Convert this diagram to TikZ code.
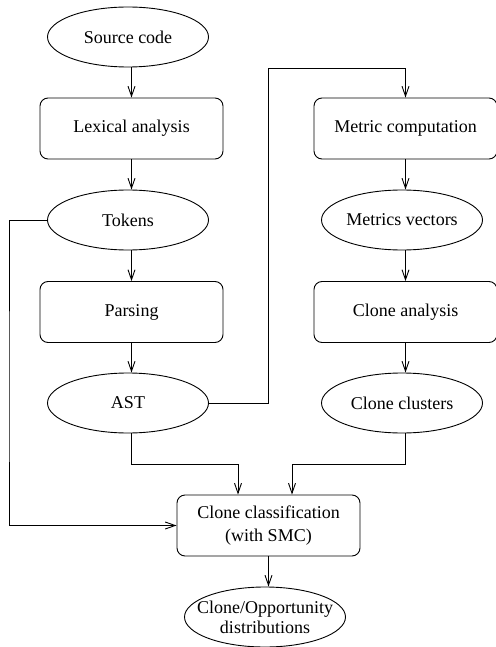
\documentclass[tikz,border=0pt]{standalone}
\usepackage{fontspec}
\setmainfont{Liberation Serif}
\usetikzlibrary{arrows.meta, shapes.geometric}

\begin{document}
\begin{tikzpicture}[x=1pt, y=-1pt, line width=0.9pt,
    every node/.style={font=\fontsize{18}{23}\selectfont},
    stage/.style={draw, rounded corners=8pt, minimum width=183pt, minimum height=61pt, align=center},
    datum/.style={draw, ellipse, inner sep=0pt, minimum width=161pt, minimum height=60pt, align=center},
    flow/.style={-{Straight Barb[length=10pt, width=7pt]}}]
  \useasboundingbox (0,0) rectangle (495,647);
  \node[datum] (src) at (128,37) {Source code};
  \node[stage] (lex) at (131.5,128.5) {Lexical analysis};
  \node[datum] (tok) at (128,220) {Tokens};
  \node[stage] (parse) at (131.5,312) {Parsing};
  \node[datum] (ast) at (128,403) {AST};
  \node[stage] (metric) at (405.5,128.5) {Metric computation};
  \node[datum] (vec) at (402,220) {Metrics vectors};
  \node[stage] (canal) at (405.5,312) {Clone analysis};
  \node[datum] (clus) at (402,403) {Clone clusters};
  \node[stage] (cls) at (268.5,525.5) {Clone classification\\(with SMC)};
  \node[datum, inner xsep=-20pt, font=\fontsize{18}{20}\selectfont] (dist) at (265,617) {Clone/Opportunity\\distributions};
  \coordinate (astup) at (268,68);
  \coordinate (mergeL) at (238,464);
  \coordinate (mergeR) at (292,464);
  \coordinate (tokleft) at (9,400);
  \foreach \a/\b in {src/lex, tok/parse, vec/canal}
    \draw[flow] (\a.south -| \b) -- (\b.north);
  \foreach \a/\b in {lex/tok, parse/ast, metric/vec, canal/clus, cls/dist}
    \draw[flow] (\a.south) -- (\a.south |- \b.north);
  \draw[flow] (ast.east) -| (astup) -| (metric.north);
  \draw[flow] (ast.south -| parse) |- (mergeL) -- (mergeL |- cls.north);
  \draw[flow] (clus.south -| canal) |- (mergeR) -- (mergeR |- cls.north);
  \draw[flow] (tok.west) -| (tokleft) |- (cls.west);
\end{tikzpicture}
\end{document}
